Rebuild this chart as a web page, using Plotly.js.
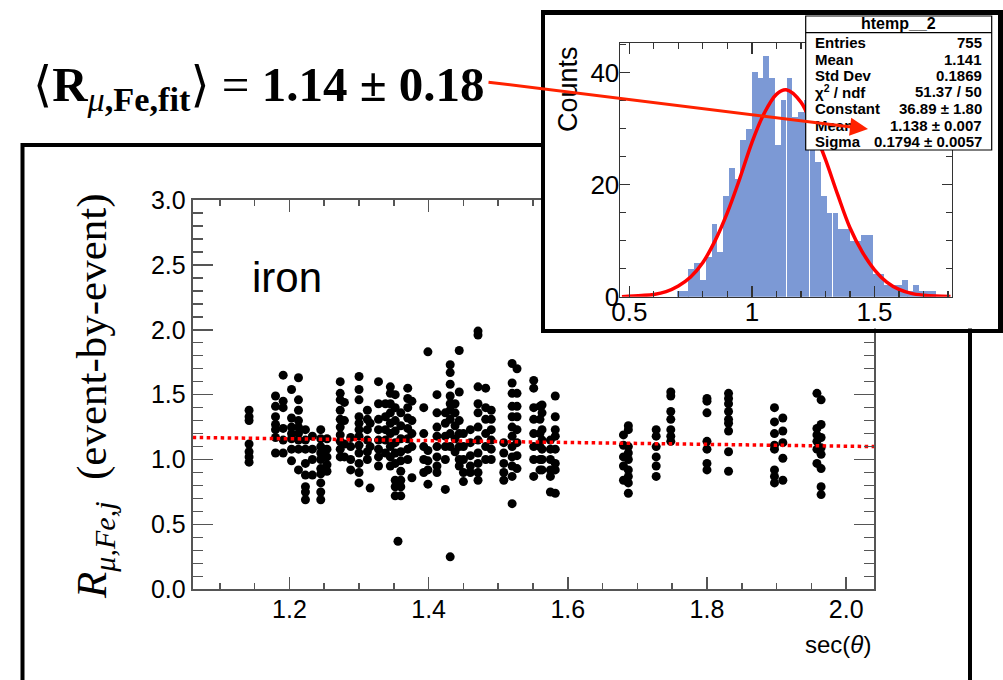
<!DOCTYPE html>
<html><head><meta charset="utf-8">
<script src="https://cdn.plot.ly/plotly-3.0.1.min.js"></script>
<style>html,body{margin:0;padding:0;background:#fff}#chart{width:1003px;height:680px}</style>
</head><body><div id="chart"></div>
<script>
// ---- main scatter: sec(theta) columns and event-by-event ratios ----
const colSec = [1.142,1.180,1.191,1.203,1.213,1.223,1.233,1.245,1.254,1.273,1.279,1.288,1.300,1.312,1.316,1.328,1.338,1.345,1.352,1.356,1.360,1.370,1.376,1.393,1.399,1.412,1.424,1.431,1.438,1.444,1.450,1.460,1.471,1.482,1.490,1.508,1.520,1.527,1.551,1.560,1.563,1.575,1.582,1.680,1.687,1.727,1.748,1.800,1.831,1.897,1.909,1.958,1.964];
const colRatio = [
 [1.38,1.33,1.30,1.12,1.06,1.02,0.98],
 [1.49,1.41,1.33,1.27,1.23,1.17,1.05],
 [1.65,1.45,1.40,1.24,1.15,1.05],
 [1.54,1.32,1.25,1.20,1.16,1.08,0.99],
 [1.63,1.46,1.38,1.30,1.25,1.20,1.15,1.08,0.92],
 [1.23,1.15,1.08,0.97,0.88,0.79,0.75,0.69],
 [1.18,1.08,1.00,0.88],
 [1.23,1.16,1.10,1.05,1.00,0.93,0.89,0.82,0.75,0.69],
 [1.16,1.08,1.02,0.96,0.91],
 [1.60,1.51,1.46,1.38,1.31,1.25,1.19,1.14,1.08,1.02],
 [1.44,1.30,1.12,1.02],
 [1.17,1.10,1.00,0.92],
 [1.64,1.54,1.46,1.33,1.28,1.23,1.18,1.11,1.05,0.97,0.90,0.82],
 [1.38,1.31,1.23,1.15,1.06,1.00],
 [1.28,1.10,0.78],
 [1.60,1.43,1.31,1.23,1.15,1.08,1.02,0.95],
 [1.43,1.33,1.23,1.15,1.05],
 [1.56,1.51,1.43,1.36,1.28,1.20,1.10,1.02,0.95],
 [1.50,1.40,1.30,1.22,1.13,1.05,0.97,0.84,0.79,0.72],
 [0.37],
 [1.36,1.26,1.16,1.06,0.99,0.91,0.84,0.79,0.72],
 [1.55,1.47,1.40,1.32,1.24,1.16,1.08,1.00],
 [1.45,1.30,1.20,1.10,0.86],
 [1.40,1.20,1.10,1.00,0.90],
 [1.83,1.07,0.99,0.92,0.81],
 [1.50,1.36,1.25,1.18,1.10,1.02,0.95,0.90],
 [1.36,1.28,1.18,1.10,1.00,0.77],
 [1.73,1.67,1.58,1.49,1.43,1.38,1.31,1.20,1.10,0.25],
 [1.43,1.36,1.26,1.16,1.06],
 [1.84,1.52,1.30,1.20,1.10,1.00,0.95],
 [1.20,1.10,1.00,0.90,0.83],
 [1.23,1.13,1.03,0.95,0.90],
 [1.99,1.96,1.56,1.43,1.36,1.25,1.15,1.05,0.97,0.90,0.84],
 [1.55,1.40,1.31,1.20,1.10,1.00],
 [1.38,1.31,1.23,1.15,1.08,1.00],
 [1.13,1.05,0.97,0.90,0.84],
 [1.74,1.59,1.51,1.41,1.33,1.25,1.18,1.10,1.02,0.95,0.87,0.66],
 [1.70,1.51,1.41,1.33,1.23,1.13,1.03,0.93],
 [1.61,1.55,1.40,1.31,1.20,1.10,1.00,0.87],
 [1.41,1.31,1.20,1.10,1.00,0.92],
 [1.42,1.36,1.23,1.15,1.08,1.00,0.92],
 [1.15,1.08,1.00,0.92,0.87,0.75],
 [1.49,1.33,1.23,1.18,1.08,0.97,0.92,0.74],
 [1.19,1.11,1.02,0.95,0.84],
 [1.26,1.23,1.10,1.05,1.00,0.92,0.87,0.82,0.74],
 [1.23,1.18,1.10,1.02,0.95,0.87],
 [1.52,1.49,1.37,1.31,1.23,1.18,1.14],
 [1.47,1.45,1.36,1.14,1.08,0.97,0.92],
 [1.51,1.47,1.43,1.37,1.31,1.28,1.22,1.06,0.91],
 [1.40,1.29,1.20,1.11,1.08,0.92,0.87,0.82],
 [1.32,1.22,1.13,1.01,0.84],
 [1.51,1.24,1.19,1.14,1.08,0.97],
 [1.46,1.27,1.17,1.09,1.04,0.93,0.79,0.73]
];
// linear fit (red dotted)
const fitSec = [1.061, 2.040];
const fitRatio = [1.170, 1.100];

// ---- inset histogram ----
const binCenters = [0.683,0.706,0.730,0.753,0.777,0.800,0.824,0.847,0.871,0.894,0.918,0.941,0.965,0.988,1.012,1.035,1.059,1.082,1.106,1.129,1.153,1.176,1.200,1.223,1.247,1.270,1.294,1.317,1.341,1.364,1.388,1.411,1.435,1.458,1.482,1.505,1.529,1.552,1.576,1.599,1.623,1.646,1.670,1.693,1.717,1.740,1.764];
const binCounts = [0,1,1,5,6,3,7,13,8,18,23,21,28,30,40,39,43,39,27,35,39,32,33,35,33,24,18,15,15,12,12,10,10,11,11,4,4,2,2,2,3,1,2,1,1,1,0];
// gaussian fit curve
const gausX = [0.47,0.55,0.60,0.65,0.70,0.75,0.80,0.85,0.90,0.95,1.00,1.05,1.10,1.14,1.20,1.25,1.30,1.35,1.40,1.45,1.50,1.55,1.60,1.65,1.70,1.75,1.81];
const gausY = [0.0,0.2,0.4,0.9,1.9,3.5,6.1,10.0,15.0,21.0,27.5,32.7,36.1,36.9,34.7,30.0,24.5,18.2,12.3,8.0,4.8,2.6,1.3,0.6,0.27,0.11,0.03];

// stats box
const statTitle = 'htemp__2';
const statLabels = ['Entries','Mean','Std Dev','χ<sup>2</sup> / ndf','Constant','Mean','Sigma'];
const statValues = ['755','1.141','0.1869','51.37 / 50','36.89 ± 1.80','1.138 ± 0.007','0.1794 ± 0.0057'];

// ---- build ----
const W = 1003, H = 680;
const px = v => v / W;
const py = v => 1 - v / H;

const sx = [], sy = [];
colSec.forEach((s, i) => colRatio[i].forEach(r => { sx.push(s); sy.push(r); }));

const SANS = 'Liberation Sans, Arial, Helvetica, sans-serif';
const SERIF = 'Liberation Serif, Times New Roman, DejaVu Serif, serif';
const STATF = 'Liberation Sans, Arial, sans-serif';
const AX = '#555';

const traces = [
  {type:'scatter', mode:'markers', x:sx, y:sy, xaxis:'x', yaxis:'y',
   marker:{color:'#000', size:9}, hoverinfo:'skip', showlegend:false},
  {type:'scatter', mode:'lines', x:fitSec, y:fitRatio, xaxis:'x', yaxis:'y',
   line:{color:'#ff0000', width:3.5, dash:'dot'}, showlegend:false},
  {type:'scatter', mode:'lines', x:[], y:[], xaxis:'x2', yaxis:'y2', showlegend:false},
  {type:'bar', x:binCenters, y:binCounts, width:0.0235, xaxis:'x3', yaxis:'y3',
   marker:{color:'#7c99d5', line:{width:0}}, showlegend:false},
  {type:'scatter', mode:'lines', x:gausX, y:gausY, xaxis:'x3', yaxis:'y3',
   line:{color:'#ff0000', width:3.5, shape:'spline'}, showlegend:false}
];

const annotations = [
  {xref:'paper', yref:'paper', x:px(259), y:py(88), xanchor:'center', yanchor:'middle', showarrow:false,
   text:'⟨<b>R</b><sub><i>μ</i><b>,Fe,fit</b></sub>⟩ = <b>1.14 ± 0.18</b>',
   font:{family:SERIF, size:49, color:'#000'}},
  {xref:'paper', yref:'paper', x:px(250), y:py(277), xanchor:'left', yanchor:'middle', showarrow:false,
   text:'iron', font:{family:SANS, size:42, color:'#000'}},
  {xref:'paper', yref:'paper', x:px(95), y:py(396), xanchor:'center', yanchor:'middle', showarrow:false,
   textangle:-90, text:'<i>R</i><sub><i>μ,Fe,j</i></sub>  (event-by-event)',
   font:{family:SERIF, size:43, color:'#000'}},
  {xref:'paper', yref:'paper', x:px(873), y:py(644), xanchor:'right', yanchor:'middle', showarrow:false,
   text:'sec(<i>θ</i>)', font:{family:SANS, size:24, color:'#000'}},
  {xref:'paper', yref:'paper', x:px(568), y:py(89), xanchor:'center', yanchor:'middle', showarrow:false,
   textangle:-90, text:'Counts', font:{family:SANS, size:27, color:'#000'}},
  {xref:'paper', yref:'paper', x:px(898.7), y:py(24), xanchor:'center', yanchor:'middle', showarrow:false,
   text:'<b>' + statTitle + '</b>', font:{family:STATF, size:16, color:'#000'}}
];
const rowY = [42.3, 59, 75.7, 91.7, 109, 125, 141.7];
statLabels.forEach((l, i) => {
  annotations.push({xref:'paper', yref:'paper', x:px(813), y:py(rowY[i]), xanchor:'left', yanchor:'middle',
    showarrow:false, text:'<b>' + l + '</b>', font:{family:STATF, size:15, color:'#000'}});
  annotations.push({xref:'paper', yref:'paper', x:px(984), y:py(rowY[i]), xanchor:'right', yanchor:'middle',
    showarrow:false, text:'<b>' + statValues[i] + '</b>', font:{family:STATF, size:15, color:'#000'}});
});
// red arrow from the formula to the fitted mean
annotations.push({xref:'paper', yref:'paper', x:px(868), y:py(129), ax:487-868, ay:82-129,
  text:'', showarrow:true, arrowhead:2, arrowsize:1.2, arrowwidth:3, arrowcolor:'#ff2200'});

const shapes = [
  {type:'rect', xref:'paper', yref:'paper', x0:px(22.5), x1:px(970), y0:-0.05, y1:py(145),
   line:{color:'#000', width:4}, fillcolor:'rgba(0,0,0,0)', layer:'below'},
  {type:'rect', xref:'paper', yref:'paper', x0:px(805.7), x1:px(991.7), y0:py(150), y1:py(16),
   line:{color:'#000', width:1.2}, fillcolor:'#fff', layer:'above'},
  {type:'line', xref:'paper', yref:'paper', x0:px(805.7), x1:px(991.7), y0:py(32.7), y1:py(32.7),
   line:{color:'#000', width:1.2}, layer:'above'}
];

function mainAxis(extra) {
  return Object.assign({
    showline:true, linecolor:AX, linewidth:2, mirror:'allticks',
    ticks:'inside', tickcolor:AX, tickwidth:1.5,
    showgrid:false, zeroline:false, fixedrange:true,
    tickfont:{family:SANS, size:25, color:'#000'}
  }, extra);
}

const layout = {
  width:W, height:H, margin:{l:0, r:0, t:0, b:0},
  paper_bgcolor:'#fff', plot_bgcolor:'#fff', showlegend:false,
  xaxis: mainAxis({domain:[px(192.7), px(874)], range:[1.061, 2.040], anchor:'y',
    dtick:0.2, tick0:1.2, tickformat:'.1f', ticklen:12, ticklabelstandoff:-3,
    minor:{dtick:0.05, ticks:'inside', ticklen:6, tickcolor:AX, tickwidth:1.5}}),
  yaxis: mainAxis({domain:[py(589.3), py(200)], range:[0, 3], anchor:'x',
    dtick:0.5, tick0:0, tickformat:'.1f', ticklen:20, ticklabelstandoff:0,
    minor:{dtick:0.1, ticks:'inside', ticklen:10, tickcolor:AX, tickwidth:1.5}}),
  xaxis2: {domain:[px(545), px(998)], range:[0,1], anchor:'y2', showline:true, mirror:true,
    linecolor:'#000', linewidth:4.5, showticklabels:false, ticks:'', showgrid:false, zeroline:false, fixedrange:true},
  yaxis2: {domain:[py(328.5), py(14.5)], range:[0,1], anchor:'x2', showline:true, mirror:true,
    linecolor:'#000', linewidth:4.5, showticklabels:false, ticks:'', showgrid:false, zeroline:false, fixedrange:true},
  xaxis3: {domain:[px(620), px(951.7)], range:[0.462, 1.815], anchor:'y3',
    showline:true, linecolor:'#333', linewidth:1.5, mirror:'allticks',
    ticks:'inside', ticklen:11, tickcolor:'#333', tickwidth:1.2, dtick:0.5, tick0:0.5,
    minor:{dtick:0.1, ticks:'inside', ticklen:6, tickcolor:'#333', tickwidth:1.2},
    showgrid:false, zeroline:false, fixedrange:true, ticklabelstandoff:-8,
    tickfont:{family:SANS, size:26, color:'#000'}},
  yaxis3: {domain:[py(296.7), py(43.3)], range:[0, 45.2], anchor:'x3',
    showline:true, linecolor:'#333', linewidth:1.5, mirror:'allticks',
    ticks:'inside', ticklen:10, tickcolor:'#333', tickwidth:1.2, dtick:20, tick0:0,
    minor:{dtick:5, ticks:'inside', ticklen:6, tickcolor:'#333', tickwidth:1.2},
    showgrid:false, zeroline:false, fixedrange:true, ticklabelstandoff:-6,
    tickfont:{family:SANS, size:26, color:'#000'}},
  bargap:0,
  shapes:shapes,
  annotations:annotations
};

Plotly.newPlot('chart', traces, layout, {displayModeBar:false, staticPlot:true});
</script></body></html>
